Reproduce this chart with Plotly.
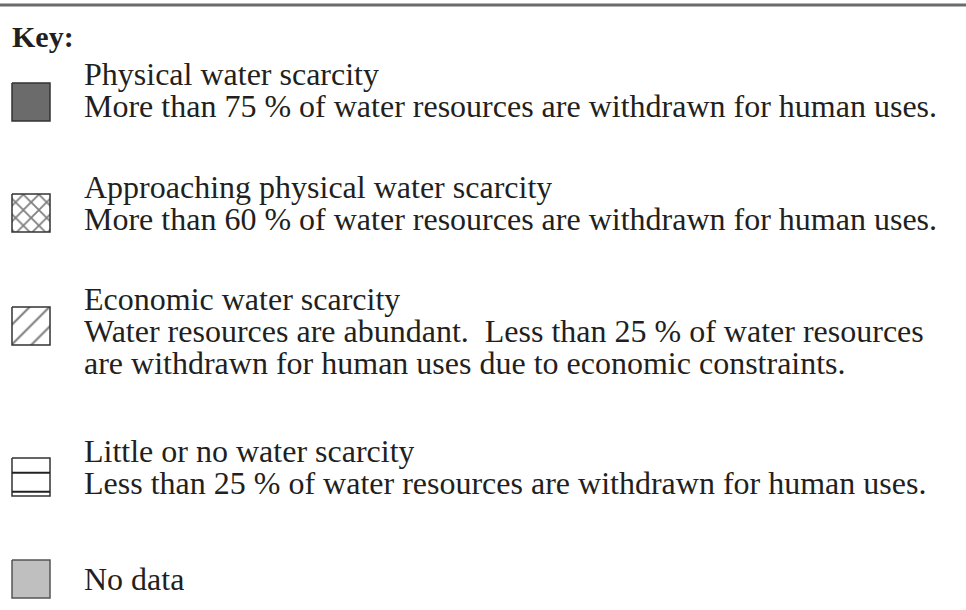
import plotly.graph_objects as go

# ---- data (legend content) ----
key_title = "Key:"
categories = [
    "Physical water scarcity",
    "Approaching physical water scarcity",
    "Economic water scarcity",
    "Little or no water scarcity",
    "No data",
]
descriptions = [
    ["More than 75 % of water resources are withdrawn for human uses."],
    ["More than 60 % of water resources are withdrawn for human uses."],
    ["Water resources are abundant.  Less than 25 % of water resources",
     "are withdrawn for human uses due to economic constraints."],
    ["Less than 25 % of water resources are withdrawn for human uses."],
    [],
]
icon_kinds = ["solid_dark", "crosshatch", "diagonal", "horizontal", "solid_light"]

# ---- layout constants ----
W, H = 966, 610
FONT = "Liberation Serif"
TXT = "#231f20"
FS = 32
LINE = 32
BOX_H = 30
text_x = 82
title_y = [74.5, 187.5, 299.5, 451.5, 579.5]
icon_top = [83, 194, 307, 458, 560]
icon_x0, icon_size = 12, 38

fig = go.Figure()
annotations = []
shapes = []

# top rule
shapes.append(dict(type="line", x0=0, x1=W, y0=5, y1=5,
                   line=dict(color="#6a6a6a", width=3)))

annotations.append(dict(x=10, y=36.5, text="<b>%s</b>" % key_title, showarrow=False,
                        xanchor="left", yanchor="middle",
                        font=dict(family=FONT, size=30, color=TXT)))


def add_line(y, text):
    annotations.append(dict(x=text_x, y=y + 2.7, text=text, showarrow=False,
                            xanchor="left", yanchor="middle", height=BOX_H,
                            valign="bottom",
                            font=dict(family=FONT, size=FS, color=TXT)))


for i, (cat, desc, kind) in enumerate(zip(categories, descriptions, icon_kinds)):
    ty = title_y[i]
    add_line(ty, cat)
    for j, line in enumerate(desc):
        add_line(ty + LINE * (j + 1), line)
    x0 = icon_x0
    x1 = icon_x0 + icon_size
    y0 = icon_top[i]
    y1 = y0 + icon_size
    bx = [x0, x1, x1, x0, x0]
    by = [y0, y0, y1, y1, y0]
    if kind == "solid_dark":
        fig.add_trace(go.Scatter(x=bx, y=by, mode="lines", fill="toself",
                                 fillcolor="#6b6b6b", line=dict(color="#333333", width=1.5),
                                 hoverinfo="skip", showlegend=False))
    elif kind == "solid_light":
        fig.add_trace(go.Scatter(x=bx, y=by, mode="lines", fill="toself",
                                 fillcolor="#bfbfbf", line=dict(color="#555555", width=1.5),
                                 hoverinfo="skip", showlegend=False))
    elif kind == "crosshatch":
        fig.add_trace(go.Scatter(x=bx, y=by, mode="lines", fill="toself",
                                 fillpattern=dict(shape="x", size=11, solidity=0.3,
                                                  fgcolor="#000000", bgcolor="white"),
                                 line=dict(color="#333333", width=1.5),
                                 hoverinfo="skip", showlegend=False))
    elif kind == "diagonal":
        fig.add_trace(go.Scatter(x=bx, y=by, mode="lines", fill="toself",
                                 fillpattern=dict(shape="/", size=14, solidity=0.15,
                                                  fgcolor="#000000", bgcolor="white"),
                                 line=dict(color="#333333", width=1.5),
                                 hoverinfo="skip", showlegend=False))
    elif kind == "horizontal":
        fig.add_trace(go.Scatter(x=bx, y=by, mode="lines", fill="toself",
                                 fillcolor="white", line=dict(color="#333333", width=1.5),
                                 hoverinfo="skip", showlegend=False))
        xs, ys = [], []
        for f in (0.39, 0.89):
            xs += [x0, x1, None]
            ys += [y0 + f * icon_size] * 2 + [None]
        fig.add_trace(go.Scatter(x=xs, y=ys, mode="lines",
                                 line=dict(color="#222222", width=2),
                                 hoverinfo="skip", showlegend=False))

fig.update_layout(
    width=W, height=H,
    margin=dict(l=0, r=0, t=0, b=0),
    paper_bgcolor="white", plot_bgcolor="white",
    xaxis=dict(range=[0, W], visible=False, fixedrange=True),
    yaxis=dict(range=[H, 0], visible=False, fixedrange=True),
    annotations=annotations, shapes=shapes,
    showlegend=False,
)
fig.write_html("out.html", config={"displayModeBar": False},
               post_script="document.body.style.margin='0';")
